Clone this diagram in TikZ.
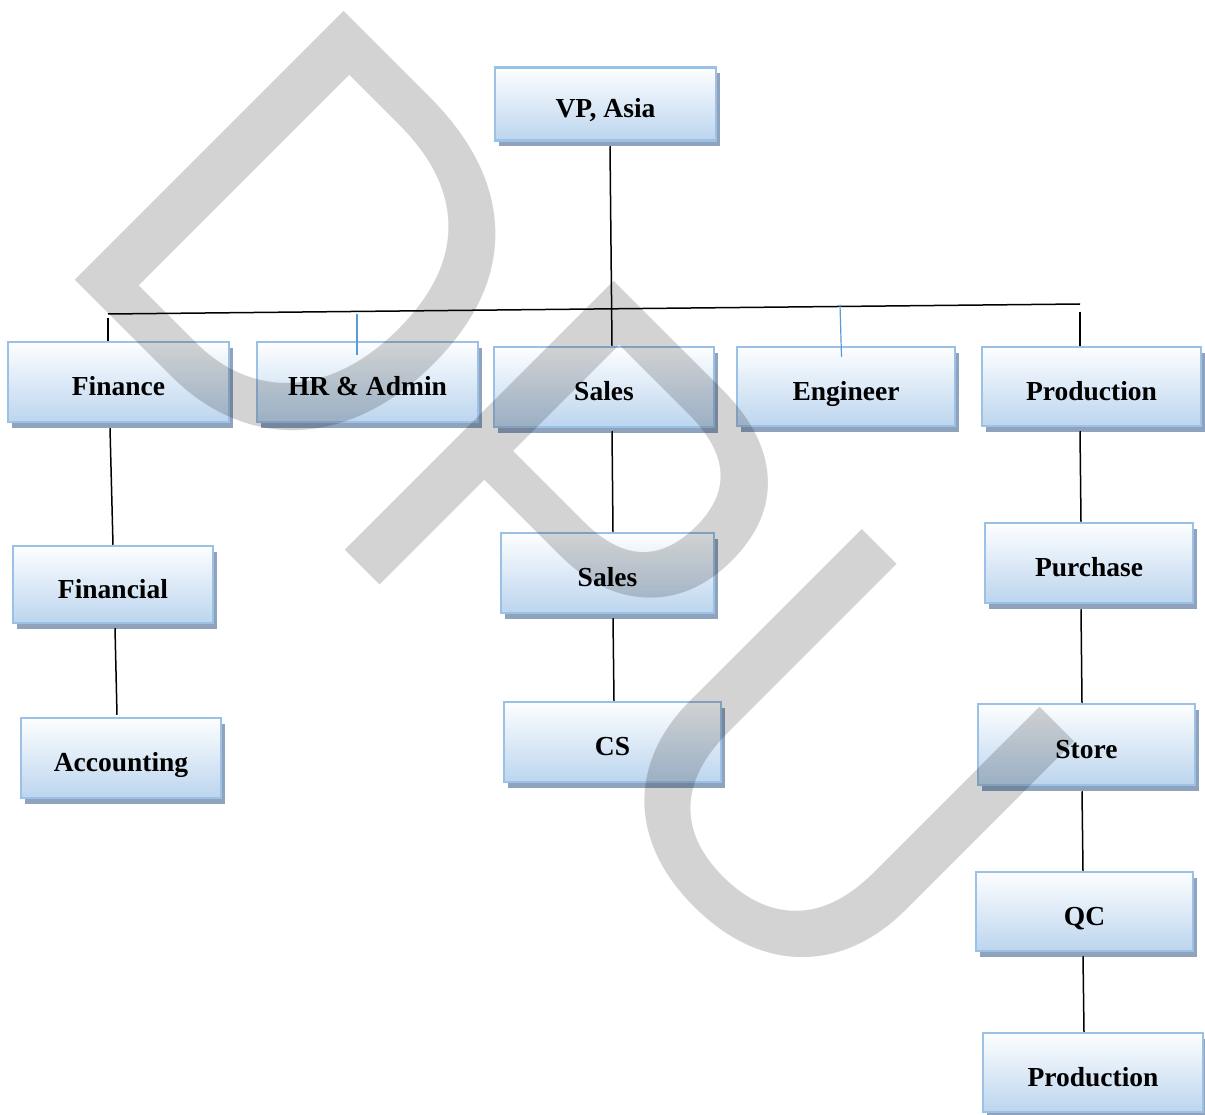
\documentclass[tikz,border=0pt]{standalone}
\usepackage{fontspec}
\setmainfont{Liberation Serif}
\newfontfamily\wmfont{Liberation Sans}
\usetikzlibrary{shadows,calc}
\definecolor{boxborder}{RGB}{155,194,230}
\definecolor{boxtop}{RGB}{253,254,255}
\definecolor{boxbot}{RGB}{188,213,238}
\definecolor{shadowc}{RGB}{143,163,189}
\definecolor{stubblue}{RGB}{91,155,213}
\definecolor{wmgray}{RGB}{211,211,211}
\tikzset{
  orgbox/.style={draw=boxborder, line width=2.5pt, top color=boxtop, bottom color=boxbot,
    inner sep=0pt, minimum width=220pt, minimum height=80pt,
    font=\bfseries\fontsize{27.5}{30}\selectfont, text height=27pt, text depth=0pt,
    drop shadow={shadow xshift=4pt, shadow yshift=-6pt, fill=shadowc, opacity=1, draw=none}},
  conn/.style={draw=black, line width=1.5pt},
  bluestub/.style={draw=stubblue, line width=1.2pt},
}
\begin{document}
\begin{tikzpicture}[x=1pt,y=1pt]
\useasboundingbox[fill=white] (0,0) rectangle (1205,-1115);

% boxes
\node[orgbox, minimum width=221pt, minimum height=73pt] (vp) at (605.5,-104) {VP, Asia};
\node[orgbox, minimum width=221pt] (fin) at (118.5,-382) {Finance};
\node[orgbox, minimum width=221pt] (hr) at (367.5,-382) {HR \& Admin};
\node[orgbox, minimum width=220pt] (sal) at (604,-387) {Sales};
\node[orgbox, minimum width=218pt, minimum height=79pt] (eng) at (846,-386.5) {Engineer};
\node[orgbox, minimum width=219pt, minimum height=79pt] (prod) at (1091.5,-386.5) {Production};
\node[orgbox, minimum width=200pt, minimum height=77pt] (fcl) at (113,-584.5) {Financial};
\node[orgbox, minimum width=200pt] (acc) at (121,-758) {Accounting};
\node[orgbox, minimum width=213pt] (sal2) at (607.5,-573) {Sales};
\node[orgbox, minimum width=217pt] (cs) at (612.5,-742) {CS};
\node[orgbox, minimum width=208pt] (pur) at (1089,-563) {Purchase};
\node[orgbox, minimum width=217pt, minimum height=81pt] (sto) at (1086.5,-744.5) {Store};
\node[orgbox, minimum width=217pt, minimum height=79pt] (qc) at (1084.5,-911.5) {QC};
\node[orgbox, minimum width=220pt, minimum height=79pt] (prod2) at (1093,-1072.5) {Production};

% connectors
\coordinate (barL) at (108,-314);
\coordinate (barR) at (1080,-304);
\draw[conn] (barL) -- (barR);
\draw[conn] ([shift={(4.5,-4.5)}]vp.south) -- ([shift={(8,0)}]sal.north);
\draw[conn] ([shift={(-10.5,23)}]fin.north) -- ([shift={(-10.5,0)}]fin.north);
\draw[bluestub] ([shift={(-10.5,27)}]hr.north) -- ([shift={(-10.5,-14)}]hr.north);
\draw[bluestub] ([shift={(-6,41)}]eng.north) -- ([shift={(-4.5,-11)}]eng.north);
\draw[conn] ([shift={(-11.5,34)}]prod.north) -- ([shift={(-11.5,0)}]prod.north);

\draw[conn] ([shift={(-8.5,-5)}]fin.south) -- (fcl.north);
\draw[conn] ([shift={(2,-4)}]fcl.south) -- ([shift={(-4,2)}]acc.north);
\draw[conn] ([shift={(8,-3)}]sal.south) -- ([shift={(5.5,0)}]sal2.north);
\draw[conn] ([shift={(5.5,-4)}]sal2.south) -- ([shift={(1.5,0)}]cs.north);
\draw[conn] ([shift={(-11.5,-4)}]prod.south) -- ([shift={(-8,0)}]pur.north);
\draw[conn] ([shift={(-8,-5)}]pur.south) -- ([shift={(-4.5,0)}]sto.north);
\draw[conn] ([shift={(-4.5,-5)}]sto.south) -- ([shift={(-1.5,0)}]qc.north);
\draw[conn] ([shift={(-1.5,-4)}]qc.south) -- ([shift={(-9,0)}]prod2.north);

% watermark
\begin{scope}[blend mode=multiply]
\node[rotate=-45, anchor=base west, inner sep=0pt, text=wmgray,
      font=\wmfont\fontsize{529}{529}\selectfont] (wm) at (44.5,-249.6) {\scalebox{1}[1.045]{DPU}};
\end{scope}
\end{tikzpicture}
\end{document}
